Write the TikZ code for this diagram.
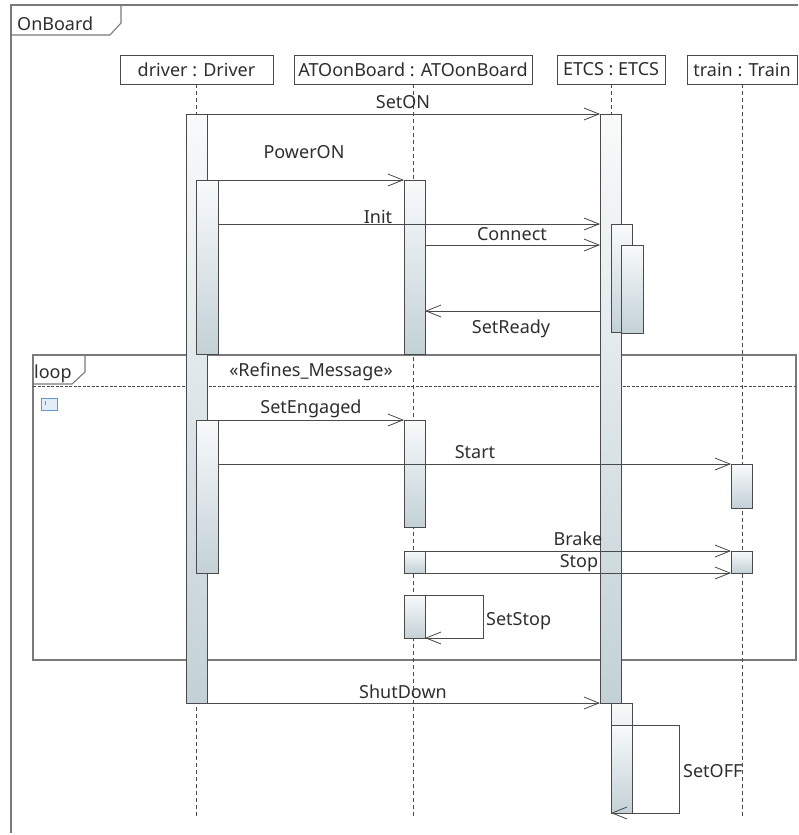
\documentclass[tikz,border=0pt]{standalone}
\usepackage{fontspec}
\setmainfont{Noto Sans}
\usetikzlibrary{arrows.meta}
\definecolor{ln}{HTML}{4A4A4A}
\definecolor{frm}{HTML}{7A7A7A}
\definecolor{bartop}{HTML}{F8FAFB}
\definecolor{barbot}{HTML}{C3D1D7}
\definecolor{txt}{HTML}{2E2E2E}
\definecolor{icb}{HTML}{5B9BD5}
\definecolor{icf}{HTML}{E3EEF9}
\newcommand\lblfont{\fontsize{18}{21}\selectfont}
\tikzset{
  bar/.style={draw=ln, line width=0.9pt, top color=bartop, bottom color=barbot,
    inner sep=0pt, outer sep=0pt, anchor=north west},
  head/.style={draw=ln, line width=0.9pt, fill=white, inner sep=0pt, outer sep=0pt,
    minimum height=29pt, anchor=north west, font=\lblfont, text=txt},
  life/.style={draw=ln, line width=0.9pt, dash pattern=on 4pt off 3pt},
  msg/.style={draw=ln, line width=0.8pt, -{Straight Barb[length=15pt,width=12pt,line width=0.8pt]}},
  lbl/.style={font=\lblfont, text=txt, inner sep=0pt, anchor=base},
  frameline/.style={draw=frm, line width=1.1pt},
}
\begin{document}
\begin{tikzpicture}[x=1pt,y=-1pt]
\useasboundingbox (0,0) rectangle (798,835);
% outer frame
\draw[frameline] (798,5) -- (11,5) -- (11,833);
\draw[frameline] (11,35) -- (110,35) -- (121,23) -- (121,5);
\node[lbl, anchor=base west] (fname) at (17,30) {OnBoard};
% loop fragment
\draw[frameline] (33,355) rectangle (796,660);
\draw[frameline] (33,384) -- (72,384) -- (85,372) -- (85,355);
\draw[draw=ln, line width=0.9pt, dash pattern=on 3pt off 1.5pt] (33,386) -- (796,386);
\node[lbl, anchor=base west] (lname) at (34,378) {loop};
\node[lbl] (stereo) at (311,376) {«Refines\_Message»};
\node[draw=icb, fill=icf, line width=0.8pt, minimum width=16pt, minimum height=12pt, inner sep=0pt, anchor=north west] (icon) at (41,398) {};
\fill[icb] (44.5,401) rectangle (46,404.5);
% lifeline heads
\node[head, minimum width=153pt] (hd) at (120,55) {driver : Driver};
\node[head, minimum width=238pt] (ha) at (294,55) {ATOonBoard : ATOonBoard};
\node[head, minimum width=108pt] (he) at (557,55) {ETCS : ETCS};
\node[head, minimum width=110pt] (ht) at (687,55) {train : Train};
% lifelines
\coordinate (endd) at (0,817);
\coordinate (ende) at (0,813);
\draw[life] (hd.south) -- (hd.south |- endd);
\draw[life] (ha.south) -- (ha.south |- endd);
\draw[life] (he.south) -- (he.south |- ende);
\draw[life] (ht.south) -- (ht.south |- endd);
% activation bars
\node[bar, minimum width=21pt, minimum height=589pt] (d1) at (186,114) {};
\node[bar, minimum width=22pt, minimum height=174pt] (d2) at (196,180) {};
\node[bar, minimum width=22pt, minimum height=153pt] (d3) at (196,420) {};
\node[bar, minimum width=21pt, minimum height=174pt] (a1) at (404,180) {};
\node[bar, minimum width=21pt, minimum height=107pt] (a2) at (404,420) {};
\node[bar, minimum width=21pt, minimum height=22pt] (a3) at (404,551) {};
\node[bar, minimum width=21pt, minimum height=43pt] (a4) at (404,595) {};
\node[bar, minimum width=21pt, minimum height=589pt] (e1) at (600,114) {};
\node[bar, minimum width=21pt, minimum height=108pt] (e2) at (611,224) {};
\node[bar, minimum width=22pt, minimum height=88pt] (e3) at (621,245) {};
\node[bar, minimum width=21pt, minimum height=110pt] (e4) at (611,703) {};
\node[bar, minimum width=21pt, minimum height=88pt] (e5) at (611,725) {};
\node[bar, minimum width=21pt, minimum height=44pt] (t1) at (731,464) {};
\node[bar, minimum width=21pt, minimum height=22pt] (t2) at (731,551) {};
% messages
\coordinate (yready) at (0,311);
\coordinate (xss) at (483,0);
\coordinate (xso) at (679,0);
\draw[msg] (d1.north east) -- (e1.north west);
\draw[msg] (d2.north east) -- (a1.north west);
\draw[msg] (d2.east |- e2.north) -- (e1.west |- e2.north);
\draw[msg] (a1.east |- e3.north) -- (e1.west |- e3.north);
\draw[msg] (e1.west |- yready) -- (a1.east |- yready);
\draw[msg] (d3.north east) -- (a2.north west);
\draw[msg] (d3.east |- t1.north) -- (t1.north west);
\draw[msg] (a3.north east) -- (t2.north west);
\draw[msg] (a3.south east) -- (t2.south west);
\draw[msg] (a4.north east) -| (xss |- a4.south) -- (a4.south east);
\draw[msg] (d1.south east) -- (e1.south west);
\draw[msg] (e5.north east) -| (xso |- e5.south) -- (e5.south west);
% message labels
\node[lbl] (lsetonn) at (403,108) {SetON};
\node[lbl] (lpower) at (304,158) {PowerON};
\node[lbl] (linit) at (378,223) {Init};
\node[lbl] (lconn) at (512,240) {Connect};
\node[lbl] (lready) at (511,333) {SetReady};
\node[lbl] (leng) at (311,413) {SetEngaged};
\node[lbl] (lstart) at (475,458) {Start};
\node[lbl] (lbrake) at (578,545) {Brake};
\node[lbl] (lstop) at (579,567) {Stop};
\node[lbl, anchor=base west] (lsetstop) at (486,625) {SetStop};
\node[lbl] (lshut) at (403,698) {ShutDown};
\node[lbl, anchor=base west] (lsetoff) at (683,777) {SetOFF};
\end{tikzpicture}
\end{document}
